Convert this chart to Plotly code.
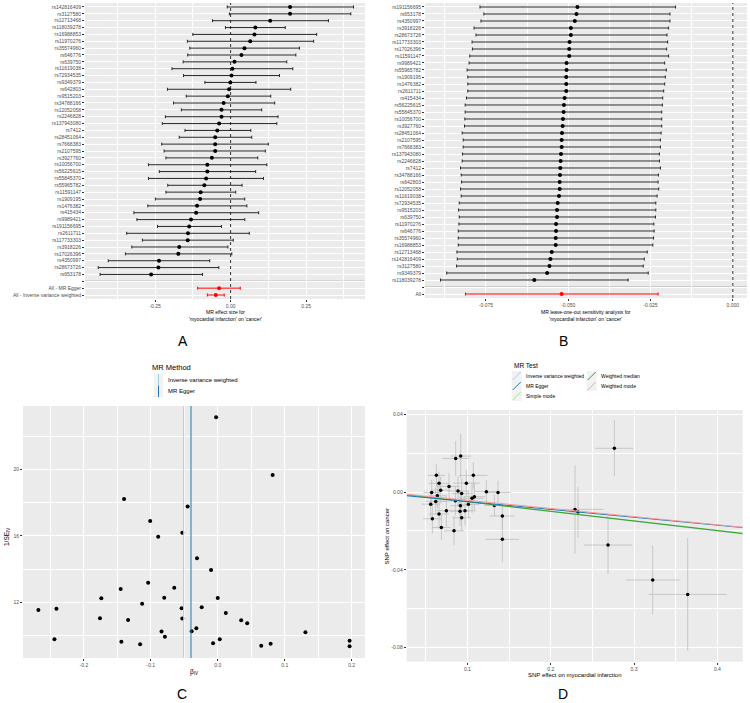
import plotly.graph_objects as go

# ---------------- DATA ----------------
# Panel A: forest plot (top -> bottom)
A_snps = ["rs142816409","rs3127580","rs12713468","rs118039278","rs16988853","rs11970276","rs35574960",
          "rs646776","rs639750","rs11619038","rs72934535","rs9349379","rs642803","rs9515203","rs34788166",
          "rs12052058","rs2246828","rs137943080","rs7412","rs28451064","rs7668383","rs2107595","rs3927760",
          "rs10056700","rs56225615","rs55845370","rs55965782","rs11591147","rs1909195","rs1476382","rs415434",
          "rs9989421","rs191156695","rs2611711","rs117733303","rs3918226","rs17026396","rs4350997",
          "rs28673726","rs653178"]
A_beta = [0.197,0.197,0.131,0.082,0.079,0.065,0.046,0.036,0.013,0.006,0.003,-0.001,-0.005,-0.009,-0.023,
          -0.030,-0.030,-0.038,-0.044,-0.051,-0.051,-0.051,-0.062,-0.077,-0.077,-0.081,-0.087,-0.099,-0.101,
          -0.111,-0.114,-0.131,-0.137,-0.141,-0.142,-0.170,-0.173,-0.237,-0.239,-0.263]
A_lo = [-0.011,-0.004,-0.060,-0.017,-0.125,-0.143,-0.135,-0.142,-0.157,-0.194,-0.156,-0.085,-0.209,-0.147,
        -0.189,-0.163,-0.216,-0.226,-0.151,-0.170,-0.228,-0.220,-0.214,-0.272,-0.236,-0.272,-0.208,-0.214,
        -0.249,-0.274,-0.320,-0.310,-0.242,-0.344,-0.292,-0.327,-0.348,-0.405,-0.438,-0.432]
A_hi = [0.407,0.398,0.324,0.181,0.285,0.275,0.228,0.216,0.186,0.206,0.162,0.084,0.199,0.133,0.146,0.103,
        0.157,0.153,0.067,0.070,0.125,0.115,0.090,0.120,0.083,0.109,0.038,0.017,0.047,0.054,0.093,0.047,
        -0.030,0.062,0.009,-0.009,0.004,-0.069,-0.039,-0.093]
A_sum_labels = ["All - MR Egger", "All - Inverse variance weighted"]
A_sum_beta = [-0.038, -0.049]
A_sum_lo = [-0.109, -0.077]
A_sum_hi = [0.032, -0.021]

# Panel B: leave-one-out (top -> bottom)
B_snps = ["rs191156695","rs653178","rs4350997","rs3918226","rs28673726","rs117733303","rs17026396",
          "rs11591147","rs9989421","rs55965782","rs1909195","rs1476382","rs2611711","rs415434","rs56225615",
          "rs55845370","rs10056700","rs3927760","rs28451064","rs2107595","rs7668383","rs137943080",
          "rs2246828","rs7412","rs34788166","rs642803","rs12052058","rs11619038","rs72934535","rs9515203",
          "rs639750","rs11970276","rs646776","rs35574960","rs16988853","rs12713468","rs142816409",
          "rs3127580","rs9349379","rs118039278"]
B_beta = [-0.0472,-0.0475,-0.0480,-0.0492,-0.0492,-0.0496,-0.0497,-0.0497,-0.0505,-0.0505,-0.0506,-0.0506,
          -0.0506,-0.0511,-0.0513,-0.0514,-0.0516,-0.0517,-0.0519,-0.0520,-0.0520,-0.0522,-0.0523,-0.0524,
          -0.0525,-0.0526,-0.0526,-0.0528,-0.0532,-0.0534,-0.0534,-0.0537,-0.0537,-0.0538,-0.0538,-0.0550,
          -0.0554,-0.0557,-0.0564,-0.0603]
B_lo = [-0.0768,-0.0756,-0.0765,-0.0786,-0.0780,-0.0792,-0.0791,-0.0799,-0.0801,-0.0807,-0.0805,-0.0805,
        -0.0805,-0.0809,-0.0813,-0.0813,-0.0814,-0.0815,-0.0822,-0.0819,-0.0819,-0.0821,-0.0822,-0.0827,
        -0.0825,-0.0824,-0.0827,-0.0825,-0.0831,-0.0833,-0.0831,-0.0832,-0.0834,-0.0834,-0.0834,-0.0838,
        -0.0837,-0.0839,-0.0869,-0.0888]
B_hi = [-0.0174,-0.0191,-0.0191,-0.0195,-0.0200,-0.0198,-0.0201,-0.0195,-0.0207,-0.0202,-0.0205,-0.0207,
        -0.0210,-0.0213,-0.0214,-0.0216,-0.0216,-0.0216,-0.0218,-0.0220,-0.0220,-0.0223,-0.0223,-0.0220,
        -0.0226,-0.0227,-0.0225,-0.0230,-0.0234,-0.0234,-0.0235,-0.0240,-0.0239,-0.0241,-0.0243,-0.0260,
        -0.0269,-0.0272,-0.0257,-0.0318]
B_all_beta = -0.0520
B_all_lo = -0.0812
B_all_hi = -0.0227

# Panel C: funnel plot
C_beta = [-0.268,-0.241,-0.244,-0.174,-0.176,-0.140,-0.145,-0.134,-0.144,-0.101,-0.104,-0.113,-0.116,
          -0.089,-0.080,-0.084,-0.079,-0.065,-0.045,-0.053,-0.054,-0.053,-0.039,-0.031,-0.032,-0.024,
          -0.010,-0.007,0.000,0.003,0.012,0.035,0.044,0.065,0.079,0.082,0.131,0.197,0.197,-0.0025]
C_invse = [11.55,11.63,9.79,12.25,11.05,18.22,12.81,10.95,9.64,16.90,13.19,11.93,9.49,15.96,12.29,10.25,
           9.94,12.89,17.77,16.20,11.65,11.03,10.27,14.66,10.45,11.71,13.95,9.54,12.27,9.79,11.37,10.93,
           10.75,9.40,9.52,19.67,10.21,9.70,9.37,23.14]
C_methods = ["Inverse variance weighted", "MR Egger"]
C_method_beta = [-0.051, -0.040]

# Panel D: scatter plot
D_bx = [0.2764,0.0860,0.0920,0.0628,0.1072,0.0660,0.0988,0.0780,0.0572,0.0680,0.0888,0.0932,0.1228,
        0.1368,0.0640,0.1084,0.1056,0.0620,0.0856,0.0560,0.1012,0.0916,0.1324,0.0748,0.0912,0.0972,
        0.0660,0.0932,0.0580,0.1420,0.0688,0.0840,0.1420,0.2292,0.2328,0.2688,0.3224,0.3644]
D_by = [0.0225,0.0173,0.0185,0.0086,0.0086,0.0045,0.0046,0.0029,-0.0002,0.0010,0.0005,-0.0007,0.0002,
        -0.0002,-0.0019,-0.0024,-0.0032,-0.0048,-0.0045,-0.0062,-0.0063,-0.0070,-0.0069,-0.0096,-0.0098,
        -0.0096,-0.0113,-0.0132,-0.0137,-0.0123,-0.0182,-0.0199,-0.0243,-0.0089,-0.0103,-0.0272,-0.0452,
        -0.0526]
D_bx_se = [0.023,0.016,0.012,0.0104,0.017,0.012,0.016,0.013,0.010,0.011,0.013,0.012,0.014,0.015,0.011,
           0.013,0.014,0.012,0.015,0.011,0.013,0.012,0.012,0.012,0.012,0.013,0.012,0.011,0.011,0.015,
           0.011,0.012,0.020,0.034,0.010,0.029,0.032,0.047]
D_by_se = [0.0143,0.009,0.0115,0.006,0.0068,0.006,0.0068,0.007,0.0065,0.0068,0.0077,0.0075,0.006,0.006,
           0.0065,0.007,0.0075,0.007,0.0075,0.0065,0.007,0.008,0.0055,0.008,0.0075,0.0075,0.0075,0.007,
           0.0075,0.007,0.0065,0.0075,0.0117,0.0227,0.013,0.015,0.0178,0.029]
D_tests = ["Inverse variance weighted", "MR Egger", "Simple mode", "Weighted median", "Weighted mode"]
D_intercepts = [0.0, -0.0008, 0.0, 0.0, 0.0]
D_slopes = [-0.0500, -0.0405, -0.0490, -0.0495, -0.0420]
D_colors = ["#A6CEE3", "#1F78B4", "#B2DF8A", "#33A02C", "#FB9A99"]
C_colors = ["#A6CEE3", "#1F78B4"]

# ---------------- STYLE / LAYOUT HELPERS ----------------
W, H = 750, 703
FONT = "Liberation Sans, Arial, sans-serif"
TICKC = "#4D4D4D"
PANEL = "#EBEBEB"

def fx(p):
    return p / W

def fy(p):
    return 1 - p / H

fig = go.Figure()

# ---------- Panel A ----------
nA = len(A_snps)
A_rows = [nA + 2 - i for i in range(nA)]        # 42 .. 3
A_blank = 2
A_sum_rows = [1, 0]
fig.add_trace(go.Scatter(
    x=A_beta, y=A_rows, mode="markers",
    marker=dict(color="black", size=4),
    error_x=dict(type="data", symmetric=False,
                 array=[h - b for h, b in zip(A_hi, A_beta)],
                 arrayminus=[b - l for b, l in zip(A_beta, A_lo)],
                 color="#262626", thickness=1, width=1.5),
    xaxis="x", yaxis="y", showlegend=False, hoverinfo="skip"))
fig.add_trace(go.Scatter(
    x=A_sum_beta, y=A_sum_rows, mode="markers",
    marker=dict(color="red", size=4),
    error_x=dict(type="data", symmetric=False,
                 array=[h - b for h, b in zip(A_sum_hi, A_sum_beta)],
                 arrayminus=[b - l for b, l in zip(A_sum_beta, A_sum_lo)],
                 color="red", thickness=1, width=1.5),
    xaxis="x", yaxis="y", showlegend=False, hoverinfo="skip"))

# ---------- Panel B ----------
nB = len(B_snps)
B_rows = [nB + 1 - i for i in range(nB)]        # 41 .. 2
B_blank = 1
B_all_row = 0
fig.add_trace(go.Scatter(
    x=B_beta, y=B_rows, mode="markers",
    marker=dict(color="black", size=4),
    error_x=dict(type="data", symmetric=False,
                 array=[h - b for h, b in zip(B_hi, B_beta)],
                 arrayminus=[b - l for b, l in zip(B_beta, B_lo)],
                 color="#262626", thickness=1, width=1.5),
    xaxis="x2", yaxis="y2", showlegend=False, hoverinfo="skip"))
fig.add_trace(go.Scatter(
    x=[B_all_beta], y=[B_all_row], mode="markers",
    marker=dict(color="red", size=4),
    error_x=dict(type="data", symmetric=False,
                 array=[B_all_hi - B_all_beta], arrayminus=[B_all_beta - B_all_lo],
                 color="red", thickness=1, width=1.5),
    xaxis="x2", yaxis="y2", showlegend=False, hoverinfo="skip"))

# ---------- Panel C ----------
fig.add_trace(go.Scatter(
    x=C_beta, y=C_invse, mode="markers",
    marker=dict(color="black", size=4),
    xaxis="x3", yaxis="y3", showlegend=False, hoverinfo="skip"))

# ---------- Panel D ----------
fig.add_trace(go.Scatter(
    x=D_bx, y=D_by, mode="markers",
    marker=dict(color="black", size=3.5),
    error_x=dict(type="data", array=D_bx_se, color="#BEBEBE", thickness=0.8, width=0),
    error_y=dict(type="data", array=D_by_se, color="#BEBEBE", thickness=0.8, width=0),
    xaxis="x4", yaxis="y4", showlegend=False, hoverinfo="skip"))
D_xr = [0.0272, 0.4304]
for idx in [0, 2, 3, 1, 4]:
    a, b = D_intercepts[idx], D_slopes[idx]
    fig.add_trace(go.Scatter(
        x=D_xr, y=[a + b * x for x in D_xr], mode="lines",
        line=dict(color=D_colors[idx], width=1),
        xaxis="x4", yaxis="y4", showlegend=False, hoverinfo="skip"))

# ---------------- AXES ----------------
tickfont = dict(family=FONT, size=5, color=TICKC)
common = dict(showline=False, zeroline=False, gridcolor="white", gridwidth=1,
              ticks="outside", ticklen=2, tickwidth=0.6, tickcolor="#333333",
              tickfont=tickfont, showgrid=True)

def minor(vals, width=0.5, ticks=""):
    return dict(tickmode="array", tickvals=vals, showgrid=True, gridcolor="white",
                gridwidth=width, ticks=ticks, ticklen=2, tickwidth=0.6, tickcolor="#333333")

shapes = []
annotations = []

fig.update_layout(
    xaxis=dict(domain=[fx(85), fx(365)], anchor="y", range=[-0.482, 0.445],
               tickmode="array", tickvals=[-0.25, 0, 0.25], ticktext=["-0.25", "0.00", "0.25"],
               minor=minor([-0.375, -0.125, 0.125, 0.375]), **common),
    yaxis=dict(domain=[fy(299), fy(3)], anchor="x", range=[-0.58, 42.58],
               tickmode="array", tickvals=A_rows + A_sum_rows,
               ticktext=A_snps + A_sum_labels,
               minor=minor([A_blank], width=1, ticks="outside"), **common),
    xaxis2=dict(domain=[fx(425), fx(747)], anchor="y2", range=[-0.0935, 0.0043],
                tickmode="array", tickvals=[-0.075, -0.05, -0.025, 0],
                ticktext=["-0.075", "-0.050", "-0.025", "0.000"],
                minor=minor([-0.0875, -0.0625, -0.0375, -0.0125]), **common),
    yaxis2=dict(domain=[fy(298), fy(3)], anchor="x2", range=[-0.57, 41.57],
                tickmode="array", tickvals=B_rows + [B_all_row],
                ticktext=B_snps + ["All"],
                minor=minor([B_blank], width=1, ticks="outside"), **common),
    xaxis3=dict(domain=[fx(23), fx(365)], anchor="y3", range=[-0.291, 0.220],
                tickmode="array", tickvals=[-0.2, -0.1, 0, 0.1, 0.2],
                ticktext=["-0.2", "-0.1", "0.0", "0.1", "0.2"],
                minor=minor([-0.25, -0.15, -0.05, 0.05, 0.15]), **common),
    yaxis3=dict(domain=[fy(658), fy(406)], anchor="x3", range=[8.66, 23.82],
                tickmode="array", tickvals=[12, 16, 20], ticktext=["12", "16", "20"],
                minor=minor([10, 14, 18, 22]), **common),
    xaxis4=dict(domain=[fx(406.7), fx(742.7)], anchor="y4", range=D_xr,
                tickmode="array", tickvals=[0.1, 0.2, 0.3, 0.4],
                ticktext=["0.1", "0.2", "0.3", "0.4"],
                minor=minor([0.05, 0.15, 0.25, 0.35]), **common),
    yaxis4=dict(domain=[fy(661.7), fy(410)], anchor="x4", range=[-0.0872, 0.0422],
                tickmode="array", tickvals=[-0.08, -0.04, 0.0, 0.04],
                ticktext=["-0.08", "-0.04", "0.00", "0.04"],
                minor=minor([-0.06, -0.02, 0.02]), **common),
)

shapes.append(dict(type="line", xref="x domain", x0=0, x1=1, yref="y", y0=A_blank, y1=A_blank,
                   line=dict(color="#BEBEBE", width=1.5), layer="below"))
shapes.append(dict(type="line", xref="x2 domain", x0=0, x1=1, yref="y2", y0=B_blank, y1=B_blank,
                   line=dict(color="#BEBEBE", width=1.5), layer="below"))
shapes.append(dict(type="line", xref="x", x0=0, x1=0, yref="y domain", y0=0, y1=1,
                   line=dict(color="black", width=0.8, dash="dot")))
shapes.append(dict(type="line", xref="x2", x0=0, x1=0, yref="y2 domain", y0=0, y1=1,
                   line=dict(color="black", width=0.8, dash="dot")))
for bval, col in zip(C_method_beta, C_colors):
    shapes.append(dict(type="line", xref="x3", x0=bval, x1=bval, yref="y3 domain", y0=0, y1=1,
                       line=dict(color=col, width=1)))

# ---------------- TEXT ----------------
def ann(text, x, y, size, xanchor="center", yanchor="middle", color="black", angle=0):
    annotations.append(dict(text=text, x=fx(x), y=fy(y), xref="paper", yref="paper",
                            xanchor=xanchor, yanchor=yanchor, showarrow=False, textangle=angle,
                            font=dict(family=FONT, size=size, color=color)))

ann("MR effect size for<br>'myocardial infarction' on 'cancer'", 225, 306.5, 5, yanchor="top")
ann("MR leave-one-out sensitivity analysis for<br>'myocardial infarction' on 'cancer'", 586, 307, 5, yanchor="top")
ann("β<sub>IV</sub>", 194, 672, 6.5)
ann("1/SE<sub>IV</sub>", 7, 537, 6.5, angle=-90)
ann("SNP effect on myocardial infarction", 575, 675, 6)
ann("SNP effect on cancer", 386.5, 537, 6, angle=-90)

ann("A", 183, 341, 14)
ann("B", 563, 341, 14)
ann("C", 182, 694, 14)
ann("D", 563, 694, 14)

# Legend C
ann("MR Method", 150, 367, 7.5, xanchor="left")
c_rows = [(374, 385.5), (385.5, 397)]
for (y0, y1), lab, col in zip(c_rows, C_methods, C_colors):
    shapes.append(dict(type="rect", xref="paper", yref="paper", x0=fx(154), x1=fx(163),
                       y0=fy(y1), y1=fy(y0), fillcolor="#F2F2F2", line=dict(width=0)))
    shapes.append(dict(type="line", xref="paper", yref="paper", x0=fx(158.5), x1=fx(158.5),
                       y0=fy(y1), y1=fy(y0), line=dict(color=col, width=1)))
    ann(lab, 165.5, (y0 + y1) / 2, 6, xanchor="left")

# Legend D
ann("MR Test", 511.7, 366, 6.5, xanchor="left")
d_pos = [(511.7, 371), (511.7, 381), (511.7, 391), (586.7, 371), (586.7, 381)]
for (x0, y0), lab, col in zip(d_pos, D_tests, D_colors):
    shapes.append(dict(type="rect", xref="paper", yref="paper", x0=fx(x0), x1=fx(x0 + 10),
                       y0=fy(y0 + 10), y1=fy(y0), fillcolor="#F2F2F2", line=dict(width=0)))
    shapes.append(dict(type="line", xref="paper", yref="paper", x0=fx(x0 + 1), x1=fx(x0 + 9),
                       y0=fy(y0 + 9), y1=fy(y0 + 1), line=dict(color=col, width=1)))
    ann(lab, x0 + 12.5, y0 + 5, 5, xanchor="left")

fig.update_layout(
    width=W, height=H, margin=dict(l=0, r=0, t=0, b=0),
    paper_bgcolor="white", plot_bgcolor=PANEL,
    shapes=shapes, annotations=annotations, showlegend=False,
    font=dict(family=FONT, size=5, color="black"),
)

fig.write_html("out.html")
